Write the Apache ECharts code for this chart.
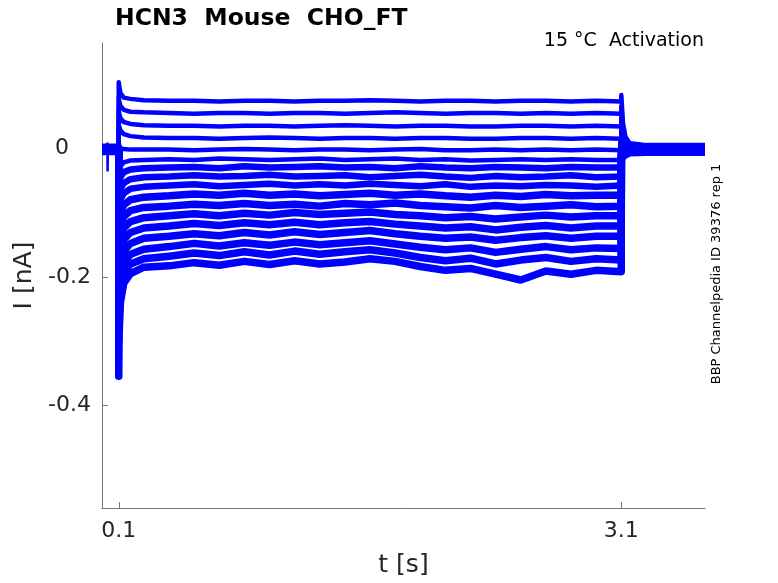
<!DOCTYPE html>
<html>
<head>
<meta charset="utf-8">
<script src="https://cdn.jsdelivr.net/npm/echarts@6/dist/echarts.min.js"></script>
<style>
html,body{margin:0;padding:0;background:#fff;}
#chart{width:778px;height:583px;}
</style>
</head>
<body>
<div id="chart"></div>
<script>
// ---- data ----
const xTicks = [0.1, 3.1];
const yTicks = [-0.4, -0.2, 0];
const tPre = [0, 0.0999];
const tStep = [0.1, 0.102, 0.11, 0.13, 0.17, 0.25, 0.4, 0.55, 0.7, 0.85, 1.0, 1.15, 1.3, 1.45, 1.6, 1.75, 1.9, 2.05, 2.2, 2.35, 2.5, 2.65, 2.8, 2.95, 3.1];
const tTail = [3.1005, 3.11, 3.125, 3.15, 3.25, 3.6];
const holdLevels = [0.004, 0.003, 0.003, 0.002, 0.001, 0.001, 0, 0, -0.001, -0.001, -0.002, -0.002, -0.003, -0.003, -0.004, -0.004, -0.005];
const stepCurrents = [
  [0.103, 0.098, 0.086, 0.079, 0.077, 0.075, 0.074, 0.074, 0.073, 0.074, 0.074, 0.073, 0.074, 0.074, 0.075, 0.074, 0.073, 0.074, 0.074, 0.073, 0.074, 0.074, 0.073, 0.074, 0.073],
  [0.080, 0.075, 0.066, 0.060, 0.057, 0.056, 0.055, 0.054, 0.055, 0.055, 0.054, 0.055, 0.055, 0.054, 0.055, 0.056, 0.055, 0.054, 0.055, 0.055, 0.054, 0.055, 0.054, 0.055, 0.054],
  [0.060, 0.055, 0.047, 0.041, 0.038, 0.036, 0.035, 0.035, 0.034, 0.035, 0.035, 0.034, 0.035, 0.036, 0.035, 0.034, 0.035, 0.035, 0.034, 0.034, 0.035, 0.035, 0.034, 0.035, 0.034],
  [0.040, 0.035, 0.028, 0.022, 0.019, 0.017, 0.016, 0.016, 0.015, 0.016, 0.017, 0.016, 0.015, 0.016, 0.016, 0.015, 0.016, 0.016, 0.015, 0.015, 0.016, 0.016, 0.015, 0.016, 0.015],
  [0.010, 0.005, 0.000, -0.001, -0.002, -0.002, -0.002, -0.003, -0.002, -0.001, -0.002, -0.003, -0.002, -0.002, -0.003, -0.002, -0.001, -0.003, -0.003, -0.002, -0.003, -0.002, -0.003, -0.002, -0.003],
  [-0.050, -0.040, -0.028, -0.022, -0.019, -0.018, -0.017, -0.018, -0.016, -0.017, -0.018, -0.017, -0.016, -0.018, -0.017, -0.016, -0.018, -0.017, -0.019, -0.018, -0.017, -0.018, -0.017, -0.018, -0.018],
  [-0.070, -0.060, -0.045, -0.037, -0.033, -0.031, -0.030, -0.029, -0.031, -0.028, -0.030, -0.029, -0.028, -0.030, -0.029, -0.031, -0.028, -0.030, -0.031, -0.029, -0.030, -0.031, -0.029, -0.030, -0.030],
  [-0.090, -0.080, -0.063, -0.054, -0.048, -0.045, -0.044, -0.042, -0.044, -0.043, -0.041, -0.044, -0.043, -0.042, -0.045, -0.043, -0.041, -0.044, -0.046, -0.043, -0.045, -0.044, -0.042, -0.045, -0.044],
  [-0.110, -0.100, -0.080, -0.070, -0.063, -0.060, -0.058, -0.056, -0.059, -0.057, -0.055, -0.058, -0.056, -0.058, -0.055, -0.057, -0.059, -0.056, -0.060, -0.058, -0.059, -0.057, -0.058, -0.060, -0.058],
  [-0.130, -0.120, -0.100, -0.088, -0.080, -0.076, -0.074, -0.071, -0.073, -0.070, -0.073, -0.071, -0.074, -0.072, -0.070, -0.073, -0.071, -0.074, -0.076, -0.073, -0.075, -0.072, -0.074, -0.073, -0.073],
  [-0.150, -0.140, -0.120, -0.106, -0.097, -0.092, -0.090, -0.087, -0.089, -0.086, -0.089, -0.087, -0.090, -0.086, -0.088, -0.085, -0.089, -0.091, -0.093, -0.089, -0.092, -0.090, -0.088, -0.091, -0.090],
  [-0.170, -0.160, -0.140, -0.124, -0.114, -0.108, -0.105, -0.102, -0.105, -0.101, -0.104, -0.100, -0.103, -0.101, -0.099, -0.103, -0.105, -0.108, -0.106, -0.110, -0.107, -0.104, -0.107, -0.105, -0.105],
  [-0.200, -0.190, -0.160, -0.142, -0.131, -0.124, -0.121, -0.117, -0.120, -0.116, -0.119, -0.115, -0.119, -0.116, -0.114, -0.118, -0.121, -0.124, -0.122, -0.127, -0.123, -0.120, -0.124, -0.121, -0.121],
  [-0.230, -0.210, -0.180, -0.160, -0.148, -0.140, -0.137, -0.133, -0.136, -0.131, -0.135, -0.130, -0.134, -0.131, -0.128, -0.133, -0.137, -0.140, -0.138, -0.143, -0.139, -0.136, -0.140, -0.137, -0.137],
  [-0.260, -0.240, -0.200, -0.178, -0.165, -0.157, -0.153, -0.148, -0.152, -0.147, -0.151, -0.146, -0.150, -0.147, -0.144, -0.149, -0.154, -0.158, -0.155, -0.162, -0.157, -0.153, -0.158, -0.155, -0.156],
  [-0.300, -0.260, -0.220, -0.195, -0.180, -0.172, -0.168, -0.163, -0.167, -0.161, -0.166, -0.160, -0.165, -0.161, -0.158, -0.163, -0.170, -0.175, -0.171, -0.180, -0.174, -0.170, -0.176, -0.172, -0.174],
  [-0.355, -0.290, -0.240, -0.210, -0.195, -0.185, -0.183, -0.178, -0.182, -0.176, -0.181, -0.175, -0.180, -0.177, -0.172, -0.176, -0.184, -0.190, -0.187, -0.196, -0.205, -0.191, -0.196, -0.190, -0.192]
];
const tailCurrents = [
  [0.083, 0.040, 0.018, 0.008, 0.005, 0.005],
  [0.065, 0.032, 0.015, 0.007, 0.004, 0.004],
  [0.050, 0.026, 0.012, 0.006, 0.003, 0.003],
  [0.038, 0.020, 0.010, 0.004, 0.002, 0.002],
  [0.028, 0.015, 0.007, 0.003, 0.001, 0.001],
  [0.020, 0.011, 0.005, 0.002, 0.000, 0.000],
  [0.012, 0.007, 0.003, 0.001, -0.001, -0.001],
  [0.006, 0.003, 0.001, 0.000, -0.001, -0.001],
  [0.000, 0.000, -0.001, -0.001, -0.002, -0.002],
  [-0.004, -0.003, -0.002, -0.002, -0.002, -0.002],
  [-0.008, -0.005, -0.004, -0.003, -0.003, -0.003],
  [-0.010, -0.007, -0.005, -0.004, -0.003, -0.003],
  [-0.012, -0.008, -0.006, -0.004, -0.004, -0.004],
  [-0.014, -0.010, -0.007, -0.005, -0.004, -0.004],
  [-0.015, -0.011, -0.008, -0.006, -0.005, -0.005],
  [-0.016, -0.012, -0.009, -0.006, -0.005, -0.005],
  [-0.018, -0.013, -0.010, -0.007, -0.006, -0.006]
];
const artifactT = [0.030, 0.032, 0.0335, 0.035, 0.037];
const artifactI = [0.000, 0.009, -0.036, 0.004, 0.000];

// ---- chart ----
const FONT = 'DejaVu Sans';
const BLUE = '#0000ff';
const AX = '#777777';
const chart = echarts.init(document.getElementById('chart'), null, {renderer: 'canvas'});

const widthFor = k => (k < 6 ? 4.5 : (k < 9 ? 6.5 : 7.5));
const series = stepCurrents.map((vals, k) => {
  const data = [];
  tPre.forEach(t => data.push([t, holdLevels[k]]));
  tStep.forEach((t, j) => data.push([t, vals[j]]));
  tTail.forEach((t, j) => data.push([t, tailCurrents[k][j]]));
  return {
    type: 'line', data, showSymbol: false, silent: true, animation: false,
    lineStyle: {color: BLUE, width: widthFor(k), join: 'round'}
  };
});
series.push({
  type: 'line', data: artifactT.map((t, j) => [t, artifactI[j]]),
  showSymbol: false, silent: true, animation: false,
  lineStyle: {color: BLUE, width: 2.5}
});

chart.setOption({
  animation: false,
  grid: {left: 102, right: 73, top: 43, bottom: 71, containLabel: false},
  xAxis: {
    type: 'value', min: 0, max: 3.6,
    name: 't [s]', nameLocation: 'middle', nameGap: 45,
    nameTextStyle: {fontFamily: FONT, fontSize: 25, color: '#262626'},
    axisLine: {show: true, onZero: false, lineStyle: {color: AX, width: 1}},
    axisTick: {show: true, inside: true, length: 6, customValues: xTicks, lineStyle: {color: AX}},
    axisLabel: {customValues: xTicks, margin: 12, fontFamily: FONT, fontSize: 22, color: '#262626'},
    splitLine: {show: false}
  },
  yAxis: {
    type: 'value', min: -0.56, max: 0.164,
    name: 'I [nA]', nameLocation: 'middle', nameGap: 56, nameRotate: 90,
    nameTextStyle: {fontFamily: FONT, fontSize: 25, color: '#262626'},
    axisLine: {show: true, onZero: false, lineStyle: {color: AX, width: 1}},
    axisTick: {show: true, inside: true, length: 6, customValues: yTicks, lineStyle: {color: AX}},
    axisLabel: {
      customValues: yTicks, margin: 11, fontFamily: FONT, fontSize: 22, color: '#262626',
      formatter: v => (v === 0 ? '{z|0}' : String(v)),
      rich: {z: {fontFamily: FONT, fontSize: 22, color: '#262626', padding: [0, 22, 0, 0]}}
    },
    splitLine: {show: false}
  },
  series,
  graphic: [
    {type: 'text', left: 115, top: 7, silent: true,
      style: {text: 'HCN3  Mouse  CHO_FT', font: 'bold 23.5px "DejaVu Sans"', fill: '#000'}},
    {type: 'text', x: 704, y: 41, silent: true,
      style: {text: '15 °C  Activation', font: '19px "DejaVu Sans"', fill: '#000', align: 'right', verticalAlign: 'middle'}},
    {type: 'text', x: 717, y: 274, rotation: Math.PI / 2, silent: true,
      style: {text: 'BBP Channelpedia ID 39376 rep 1', font: '13px "DejaVu Sans"', fill: '#000', align: 'center', verticalAlign: 'middle'}}
  ]
});
</script>
</body>
</html>
